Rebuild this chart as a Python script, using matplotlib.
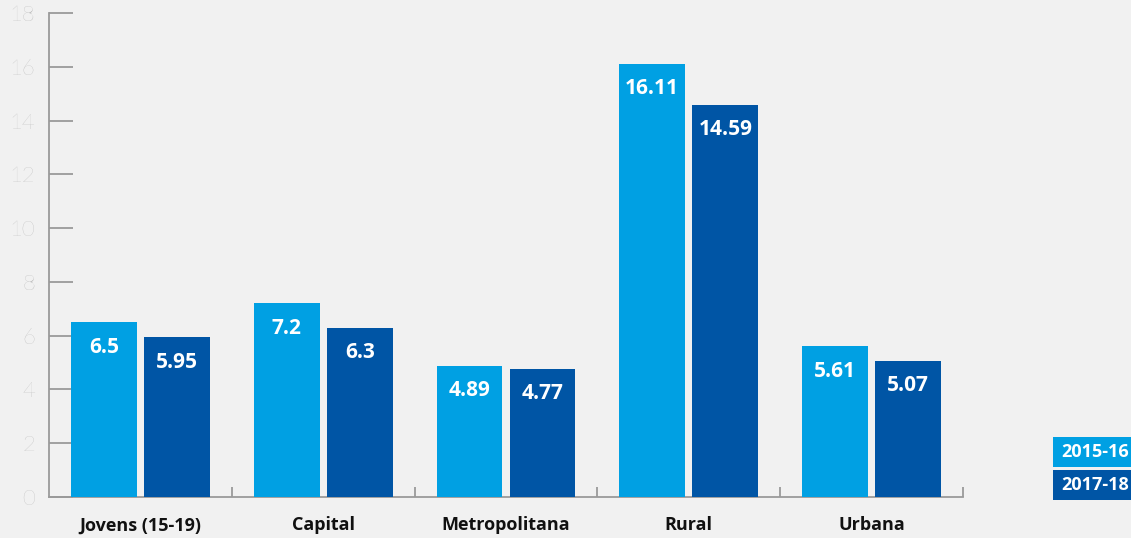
import matplotlib.pyplot as plt
from matplotlib.patches import Rectangle
import numpy as np

categories = ['Jovens (15-19)', 'Capital', 'Metropolitana', 'Rural', 'Urbana']
series_labels = ['2015-16', '2017-18']
values_2015 = [6.5, 7.2, 4.89, 16.11, 5.61]
values_2017 = [5.95, 6.3, 4.77, 14.59, 5.07]
yticks = [0, 2, 4, 6, 8, 10, 12, 14, 16, 18]

light_blue = '#00a0e3'
dark_blue = '#0055a5'
bg = '#f1f1f1'

plt.rcParams['font.family'] = ['Open Sans', 'DejaVu Sans']

W, H = 1131, 538
fig = plt.figure(figsize=(W / 100, H / 100), dpi=100, facecolor=bg)
ax = fig.add_axes([49 / W, 41 / H, 914 / W, 484 / H])
ax.set_facecolor(bg)

x = np.arange(len(categories))
w = 0.36
off = 0.2
b1 = ax.bar(x - off, values_2015, w, color=light_blue, zorder=3)
b2 = ax.bar(x + off, values_2017, w, color=dark_blue, zorder=3)

# value labels inside bars, near the top
for bars in (b1, b2):
    for rect in bars:
        h = rect.get_height()
        ax.annotate(f'{h:g}', (rect.get_x() + rect.get_width() / 2, h),
                    xytext=(0, -18), textcoords='offset points',
                    ha='center', va='center', color='white',
                    fontsize=15, fontweight='bold', zorder=4)

ax.set_xlim(-0.5, len(categories) - 0.5)
ax.set_ylim(0, 18)

for s in ('top', 'right'):
    ax.spines[s].set_visible(False)
for s in ('left', 'bottom'):
    ax.spines[s].set_color('#9a9a9a')
    ax.spines[s].set_linewidth(1.3)

ax.set_yticks(yticks)
ax.tick_params(axis='y', direction='in', length=17, width=1.3, color='#9a9a9a',
               labelsize=16, labelcolor='#b0b0b0', pad=10)
for t in ax.get_yticklabels():
    t.set_fontfamily(['Lato', 'DejaVu Sans'])
    t.set_fontweight('light')

ax.set_xticks(x)
ax.set_xticklabels(categories, fontsize=13, fontweight='bold', color='#111111')
ax.tick_params(axis='x', length=0, pad=14)
ax.set_xticks(np.arange(0.5, len(categories)), minor=True)
ax.tick_params(axis='x', which='minor', direction='in', length=7, width=1.3,
               color='#9a9a9a')

# legend boxes at the right edge
for i, (lab, col) in enumerate(zip(series_labels, [light_blue, dark_blue])):
    top = 437 + i * 33
    fig.patches.append(Rectangle((1053 / W, 1 - (top + 30) / H), 80 / W, 30 / H,
                                 transform=fig.transFigure, fc=col, ec='none'))
    fig.text(1061 / W, 1 - (top + 15) / H, lab, ha='left', va='center',
             color='white', fontsize=13, fontweight='bold')

fig.savefig('out.png', dpi=100, facecolor=bg)
